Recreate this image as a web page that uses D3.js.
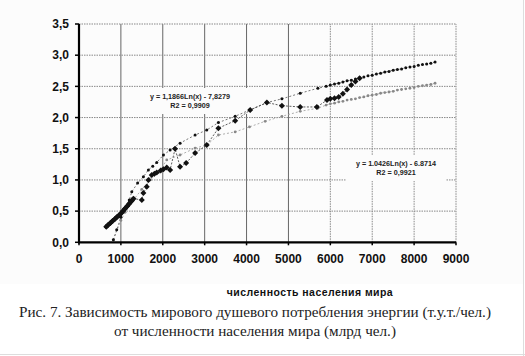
<!DOCTYPE html>
<html><head><meta charset="utf-8">
<script src="https://cdn.jsdelivr.net/npm/d3@7"></script>
<style>body{margin:0;background:#fff}svg{display:block}</style>
</head><body>
<script>
// ---- data ----
const xTicks = [0,1000,2000,3000,4000,5000,6000,7000,8000,9000];
const yTicks = [0,0.5,1,1.5,2,2.5,3,3.5];
const actualX = [650,700,750,800,850,900,950,1000,1050,1100,1150,1200,1250,1300,1500,1537,1617,1657,1736,1800,1856,1950,2016,2095,2175,2294,2413,2557,2772,3050,3328,3728,4086,4485,4844,5281,5679,5920,6000,6100,6200,6300,6400,6500,6600,6700];
const actualY = [0.25,0.28,0.31,0.34,0.37,0.40,0.43,0.46,0.50,0.54,0.58,0.62,0.66,0.70,0.68,0.79,0.89,1.00,1.08,1.10,1.12,1.15,1.17,1.20,1.16,1.50,1.21,1.27,1.43,1.56,1.83,1.95,2.12,2.24,2.19,2.17,2.17,2.28,2.30,2.31,2.33,2.38,2.45,2.52,2.58,2.63];
const upperX = [820,900,1000,1100,1200,1260,1400,1537,1656,1760,1856,2016,2175,2413,2772,3050,3328,3728,4069,4485,4844,5281,5703,5900,6000,6100,6200,6300,6400,6500,6600,6700,6800,6900,7000,7100,7200,7300,7400,7500,7600,7700,7800,7900,8000,8100,8200,8300,8400,8500];
const upperY = [0.04,0.20,0.40,0.55,0.68,0.81,0.95,1.05,1.16,1.22,1.28,1.40,1.48,1.59,1.72,1.80,1.92,2.02,2.12,2.24,2.30,2.39,2.47,2.50,2.52,2.54,2.55,2.57,2.59,2.60,2.62,2.64,2.65,2.67,2.68,2.70,2.71,2.73,2.74,2.76,2.77,2.78,2.80,2.81,2.82,2.84,2.85,2.86,2.87,2.89];
const lowerX = [820,1000,1100,1300,1500,1700,1900,2095,2413,2772,3050,3328,3728,4069,4444,4844,5281,5703,5900,6000,6100,6200,6300,6400,6500,6600,6700,6800,6900,7000,7100,7200,7300,7400,7500,7600,7700,7800,7900,8000,8100,8200,8300,8400,8500];
const lowerY = [0.04,0.35,0.48,0.68,0.85,1.00,1.12,1.32,1.40,1.51,1.56,1.72,1.77,1.85,1.94,2.02,2.10,2.15,2.20,2.22,2.23,2.25,2.26,2.28,2.29,2.30,2.32,2.33,2.35,2.36,2.37,2.39,2.40,2.41,2.42,2.44,2.45,2.46,2.47,2.48,2.50,2.51,2.52,2.53,2.55];
const fit1 = ["y = 1,1866Ln(x) - 7,8279","R2 = 0,9909"];
const fit2 = ["y = 1.0426Ln(x) - 6.8714","R2 = 0,9921"];
const xTitle = "численность населения мира";
const caption = ["Рис. 7. Зависимость мирового душевого потребления энергии (т.у.т./чел.)","от численности населения мира (млрд чел.)"];

const W=525,H=356;
const svg=d3.select("body").append("svg").attr("width",W).attr("height",H);
svg.append("rect").attr("x",0).attr("y",0).attr("width",W).attr("height",H).attr("fill","#fff");
svg.append("rect").attr("x",0).attr("y",0).attr("width",W-2).attr("height",284).attr("fill","#fcfcfc");
svg.append("line").attr("x1",W-1.5).attr("x2",W-1.5).attr("y1",0).attr("y2",H).attr("stroke","#ddd");
svg.append("line").attr("x1",0).attr("x2",W).attr("y1",H-1.5).attr("y2",H-1.5).attr("stroke","#ddd");

const x=d3.scaleLinear().domain([0,9000]).range([79,456]);
const y=d3.scaleLinear().domain([0,3.5]).range([242.3,24]);

// grid
const g=svg.append("g");
g.selectAll(".vg").data(xTicks.slice(1)).join("line")
 .attr("x1",d=>x(d)).attr("x2",d=>x(d)).attr("y1",y(0)).attr("y2",y(3.5))
 .attr("stroke",d=>d<=5000?"#666":"#888")
 .attr("stroke-dasharray",d=>d<=5000?null:"1.5,1");
g.selectAll(".hg").data(yTicks.slice(1)).join("line")
 .attr("x1",x(0)).attr("x2",x(9000)).attr("y1",d=>y(d)).attr("y2",d=>y(d))
 .attr("stroke","#888").attr("stroke-dasharray","1.5,1");

// fit label boxes
function fitLabel(lines,cx,cy,bw,bh){
  svg.append("rect").attr("x",cx-bw/2).attr("y",cy-bh/2).attr("width",bw).attr("height",bh).attr("fill","#fcfcfc");
  lines.forEach((t,i)=>svg.append("text").attr("x",cx).attr("y",cy-2+i*8.5).attr("text-anchor","middle")
    .attr("font-family","Liberation Sans, Arial, sans-serif").attr("font-weight","bold").attr("font-size",7.2).attr("fill","#222").text(t));
}
fitLabel(fit1,190,101,118,26);
fitLabel(fit2,396,168,100,26);

// series lines
const line=d3.line().x(d=>x(d[0])).y(d=>y(d[1]));
const A=actualX.map((v,i)=>[v,actualY[i]]);
const U=upperX.map((v,i)=>[v,upperY[i]]);
const L=lowerX.map((v,i)=>[v,lowerY[i]]);
svg.append("path").datum(L).attr("d",line).attr("fill","none").attr("stroke","#999").attr("stroke-width",0.8).attr("stroke-dasharray","2,2");
svg.append("path").datum(U).attr("d",line).attr("fill","none").attr("stroke","#555").attr("stroke-width",0.8).attr("stroke-dasharray","2,2");
svg.append("path").datum(A).attr("d",line).attr("fill","none").attr("stroke","#333").attr("stroke-width",0.8).attr("stroke-dasharray","2,1.5");

svg.selectAll(".lp").data(L).join("circle").attr("cx",d=>x(d[0])).attr("cy",d=>y(d[1])).attr("r",1.4).attr("fill","#888");
svg.selectAll(".up").data(U).join("circle").attr("cx",d=>x(d[0])).attr("cy",d=>y(d[1])).attr("r",1.5).attr("fill","#111");
const sym=d3.symbol().type(d3.symbolSquare).size(18);
svg.selectAll(".ap").data(A).join("path").attr("d",sym).attr("transform",d=>`translate(${x(d[0])},${y(d[1])}) rotate(45)`).attr("fill","#111");
// thick early segment
svg.append("path").datum(A.slice(0,14)).attr("d",line).attr("fill","none").attr("stroke","#111").attr("stroke-width",4).attr("stroke-linecap","round");

// axes
svg.append("line").attr("x1",x(0)).attr("x2",x(0)).attr("y1",y(0)+1).attr("y2",y(3.5)).attr("stroke","#000").attr("stroke-width",2.2);
svg.append("line").attr("x1",x(0)-1).attr("x2",x(9000)).attr("y1",y(0)).attr("y2",y(0)).attr("stroke","#000").attr("stroke-width",2.2);
svg.selectAll(".yt").data(yTicks).join("line").attr("x1",x(0)-4).attr("x2",x(0)).attr("y1",d=>y(d)).attr("y2",d=>y(d)).attr("stroke","#000").attr("stroke-width",1.5);
svg.selectAll(".xt").data(xTicks).join("line").attr("x1",d=>x(d)).attr("x2",d=>x(d)).attr("y1",y(0)).attr("y2",y(0)+3).attr("stroke","#000").attr("stroke-width",1.5);

const fmtY=d=>d3.format(".1f")(d).replace(".",",");
svg.selectAll(".yl").data(yTicks).join("text").attr("x",69).attr("y",d=>y(d)+4.3).attr("text-anchor","end")
 .attr("font-family","Liberation Sans, Arial, sans-serif").attr("font-weight","bold").attr("font-size",12).attr("fill","#111").text(fmtY);
svg.selectAll(".xl").data(xTicks).join("text").attr("x",d=>x(d)).attr("y",262.5).attr("text-anchor","middle")
 .attr("font-family","Liberation Sans, Arial, sans-serif").attr("font-weight","bold").attr("font-size",12).attr("fill","#111").text(d=>d);

svg.append("text").attr("x",310).attr("y",296).attr("text-anchor","middle")
 .attr("font-family","Liberation Sans, Arial, sans-serif").attr("font-weight","bold").attr("font-size",10.5).attr("letter-spacing",0.45).attr("fill","#111").text(xTitle);

caption.forEach((t,i)=>svg.append("text").attr("x",255).attr("y",317+i*18.5).attr("text-anchor","middle")
 .attr("font-family","Liberation Serif, serif").attr("font-size",15.2).attr("fill","#222").text(t));
</script>
</body></html>
